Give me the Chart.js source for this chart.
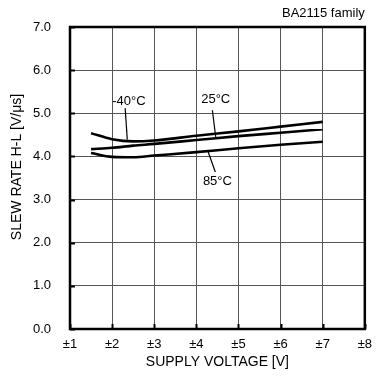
<!DOCTYPE html>
<html>
<head>
<meta charset="utf-8">
<script src="https://cdn.jsdelivr.net/npm/chart.js@4/dist/chart.umd.min.js"></script>
<style>
  html, body { margin: 0; padding: 0; background: #fff; }
  #wrap { width: 380px; height: 383px; }
</style>
</head>
<body>
<div id="wrap"><canvas id="slewChart" width="380" height="383"></canvas></div>
<script>
// ===== DATA =====
const voltage = [1.5, 2, 2.5, 3, 4, 5, 6, 7];
const slewMinus40 = [4.54, 4.40, 4.35, 4.37, 4.48, 4.58, 4.69, 4.80];
const slew25 = [4.17, 4.20, 4.25, 4.29, 4.38, 4.47, 4.55, 4.63];
const slew85 = [4.08, 3.99, 3.98, 4.02, 4.10, 4.19, 4.27, 4.34];
const xTicks = [1, 2, 3, 4, 5, 6, 7, 8];
const yTicks = [0, 1, 2, 3, 4, 5, 6, 7];
const seriesNames = ['-40\u00b0C', '25\u00b0C', '85\u00b0C'];

const FONT = 'Liberation Sans, Arial, sans-serif';

function toPoints(ys) {
    return voltage.map((v, i) => ({ x: v, y: ys[i] }));
}

// label text position + leader line end, in data units
const curveLabels = [
    { text: seriesNames[0], at: [2.4, 5.28], from: [2.31, 5.12], to: [2.36, 4.39] },
    { text: seriesNames[1], at: [4.46, 5.31], from: [4.38, 5.07], to: [4.46, 4.45] },
    { text: seriesNames[2], at: [4.5, 3.41], from: [4.28, 4.11], to: [4.45, 3.64] }
];

// frame, inward ticks, curve labels, titles
const decorPlugin = {
    id: 'decor',
    afterDatasetsDraw(chart) {
        const ctx = chart.ctx;
        const a = chart.chartArea;
        const xs = chart.scales.x, ys = chart.scales.y;
        ctx.save();

        // inward tick stubs
        ctx.strokeStyle = '#000';
        ctx.lineWidth = 2;
        yTicks.forEach(t => {
            const py = Math.round(ys.getPixelForValue(t)) + 0.5;
            ctx.beginPath(); ctx.moveTo(a.left, py); ctx.lineTo(a.left + 5, py); ctx.stroke();
        });
        xTicks.forEach(t => {
            const px = Math.round(xs.getPixelForValue(t)) + 0.5;
            ctx.beginPath(); ctx.moveTo(px, a.bottom); ctx.lineTo(px, a.bottom - 5); ctx.stroke();
        });

        // frame
        ctx.lineWidth = 2.5;
        ctx.strokeRect(a.left, a.top, a.right - a.left, a.bottom - a.top);

        // curve labels with leader lines
        ctx.lineWidth = 1.2;
        ctx.fillStyle = '#000';
        ctx.font = '13px ' + FONT;
        ctx.textAlign = 'center';
        ctx.textBaseline = 'middle';
        curveLabels.forEach(l => {
            ctx.fillText(l.text, xs.getPixelForValue(l.at[0]), ys.getPixelForValue(l.at[1]));
            ctx.beginPath();
            ctx.moveTo(xs.getPixelForValue(l.from[0]), ys.getPixelForValue(l.from[1]));
            ctx.lineTo(xs.getPixelForValue(l.to[0]), ys.getPixelForValue(l.to[1]));
            ctx.stroke();
        });

        // family tag
        ctx.textAlign = 'right';
        ctx.fillText('BA2115 family', a.right, 13);

        // y axis title (sits a bit above the plot centre in the reference)
        ctx.font = '14px ' + FONT;
        ctx.textAlign = 'center';
        ctx.translate(17, 167);
        ctx.rotate(-Math.PI / 2);
        ctx.fillText('SLEW RATE H-L [V/\u03bcs]', 0, 0);
        ctx.restore();
    }
};

const lineStyle = {
    borderColor: '#000',
    borderWidth: 2.6,
    pointRadius: 0,
    fill: false,
    cubicInterpolationMode: 'monotone'
};

new Chart(document.getElementById('slewChart'), {
    type: 'line',
    data: {
        datasets: [
            Object.assign({ label: seriesNames[0], data: toPoints(slewMinus40) }, lineStyle),
            Object.assign({ label: seriesNames[1], data: toPoints(slew25) }, lineStyle),
            Object.assign({ label: seriesNames[2], data: toPoints(slew85) }, lineStyle)
        ]
    },
    options: {
        responsive: false,
        animation: false,
        devicePixelRatio: 1,
        layout: { autoPadding: false, padding: { top: 27, right: 7, left: 0, bottom: 0 } },
        plugins: { legend: { display: false }, tooltip: { enabled: false } },
        scales: {
            x: {
                type: 'linear',
                min: 1, max: 8,
                afterBuildTicks: s => { s.ticks = xTicks.map(v => ({ value: v })); },
                afterFit: s => { s.height = 54; },
                grid: { color: '#555', lineWidth: 1, drawTicks: false },
                border: { display: false },
                ticks: {
                    color: '#000', padding: 8,
                    font: { family: FONT, size: 13 },
                    maxRotation: 0, autoSkip: false,
                    callback: v => '\u00b1' + v
                },
                title: {
                    display: true, text: 'SUPPLY VOLTAGE [V]', color: '#000',
                    font: { family: FONT, size: 14 },
                    padding: { top: 0, bottom: 12 }
                }
            },
            y: {
                min: 0, max: 7,
                afterBuildTicks: s => { s.ticks = yTicks.map(v => ({ value: v })); },
                afterFit: s => { s.width = 70; },
                grid: { color: '#555', lineWidth: 1, drawTicks: false },
                border: { display: false },
                ticks: {
                    color: '#000', padding: 19,
                    font: { family: FONT, size: 13 },
                    callback: v => v.toFixed(1)
                }
            }
        }
    },
    plugins: [decorPlugin]
});
</script>
</body>
</html>
